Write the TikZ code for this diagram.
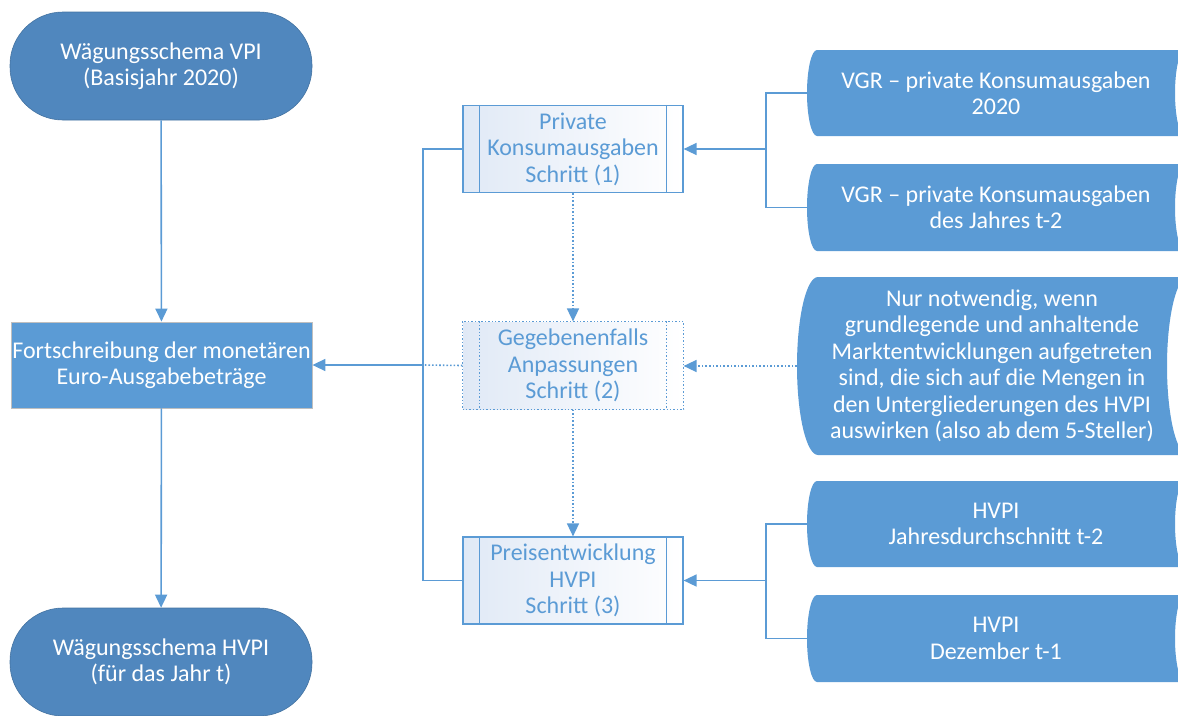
\documentclass[tikz,border=0pt]{standalone}
\usepackage{fontspec}
\setmainfont{Carlito}
\usetikzlibrary{arrows.meta}
\definecolor{termblue}{RGB}{80,135,190}
\definecolor{mainblue}{RGB}{91,155,213}
\definecolor{pbfill}{RGB}{224,233,246}
\newcommand{\sdshape}[5]{%
 \pgfmathsetmacro\sdM{(#2+#3)/2}%
 \pgfmathsetmacro\sdK{0.552*(#3-#2)/2}%
 \pgfmathsetmacro\sdA{#1-#5}%
 \pgfmathsetmacro\sdB{#1-0.552*#5}%
 \pgfmathsetmacro\sdC{#4-#5}%
 \pgfmathsetmacro\sdD{#4-0.552*#5}%
 \pgfmathsetmacro\sdE{\sdM-\sdK}%
 \pgfmathsetmacro\sdF{\sdM+\sdK}%
 \fill[mainblue] (#1,#2) .. controls (\sdB,#2) and (\sdA,\sdE) .. (\sdA,\sdM) .. controls (\sdA,\sdF) and (\sdB,#3) .. (#1,#3) -- (#4,#3) .. controls (\sdD,#3) and (\sdC,\sdF) .. (\sdC,\sdM) .. controls (\sdC,\sdE) and (\sdD,#2) .. (#4,#2) -- cycle;
}
\tikzset{
 txt/.style={font=\fontsize{24}{26.5}\selectfont, align=center, inner sep=0pt},
 term/.style={txt, text=white, fill=termblue, draw=termblue!85!black, line width=0.6pt, rounded corners=53pt, minimum width=302pt, minimum height=108pt},
 rectbox/.style={txt, text=white, fill=mainblue, draw=black!25, line width=0.8pt, minimum width=301pt, minimum height=86pt},
 procbox/.style={txt, text=mainblue, left color=pbfill, right color=white, draw=mainblue, line width=1.2pt, minimum width=220pt, minimum height=87pt},
 dotbox/.style={procbox, draw=none},
 sdtext/.style={txt, text=white},
 line/.style={draw=mainblue, line width=1.6pt},
 arr/.style={line, -{Triangle[length=13pt,width=12pt]}},
 dotline/.style={draw=mainblue, line width=1.6pt, dotted},
 dotarr/.style={dotline, -{Triangle[length=13pt,width=12pt]}},
}
\begin{document}
\begin{tikzpicture}[x=1pt,y=-1pt]
\useasboundingbox (0,0) rectangle (1178,715);
\clip (0,0) rectangle (1178,715);

% left column
\node[term] (vpi) at (161,66) {Wägungsschema VPI\\(Basisjahr 2020)};
\node[term] (hvpi) at (161,662) {Wägungsschema HVPI\\(für das Jahr t)};
\node[rectbox] (fort) at (161.5,365) {Fortschreibung der monetären\\Euro-Ausgabebeträge};

% process boxes
\node[procbox] (p1) at (573,149) {Private\\Konsumausgaben\\Schritt (1)};
\node[dotbox] (p2) at (573,365.5) {Gegebenenfalls\\Anpassungen\\Schritt (2)};
\node[procbox] (p3) at (573,580.5) {Preisentwicklung\\HVPI\\Schritt (3)};
\draw[mainblue, line width=1.2pt] ([xshift=17pt]p1.north west) -- ([xshift=17pt]p1.south west)
  ([xshift=-17pt]p1.north east) -- ([xshift=-17pt]p1.south east);
\draw[mainblue, line width=1.2pt] ([xshift=17pt]p3.north west) -- ([xshift=17pt]p3.south west)
  ([xshift=-17pt]p3.north east) -- ([xshift=-17pt]p3.south east);
\draw[mainblue, line width=1.4pt, dotted] (p2.north west) rectangle (p2.south east)
  ([xshift=17pt]p2.north west) -- ([xshift=17pt]p2.south west)
  ([xshift=-17pt]p2.north east) -- ([xshift=-17pt]p2.south east);

% stored data shapes
\sdshape{817}{50}{136}{1185}{10}
\sdshape{817}{164}{251}{1185}{10}
\sdshape{818}{277}{455}{1188}{21}
\sdshape{817}{481}{567}{1185}{10}
\sdshape{817}{595}{682}{1185}{10}
\node[sdtext] (s1) at (996,93) {VGR -- private Konsumausgaben\\2020};
\node[sdtext] (s2) at (996,207.5) {VGR -- private Konsumausgaben\\des Jahres t-2};
\node[sdtext] (s3) at (992,366) {Nur notwendig, wenn\\grundlegende und anhaltende\\Marktentwicklungen aufgetreten\\sind, die sich auf die Mengen in\\den Untergliederungen des HVPI\\auswirken (also ab dem 5-Steller)};
\node[sdtext] (s4) at (996,524) {HVPI\\Jahresdurchschnitt t-2};
\node[sdtext] (s5) at (996,638.5) {HVPI\\Dezember t-1};
\coordinate (s1w) at (807,93);
\coordinate (s2w) at (807,207.5);
\coordinate (s3w) at (797,366);
\coordinate (s4w) at (807,524);
\coordinate (s5w) at (807,638.5);

% buses
\coordinate (lbus) at (423,365);
\coordinate (rb1) at (766,149);
\coordinate (rb2) at (766,580.5);

% connectors
\draw[arr] (vpi) -- (fort);
\draw[arr] (fort) -- (hvpi);
\draw[line] (p1.west) -| (lbus) |- (p3.west);
\draw[arr] (lbus) -- (fort.east);
\draw[dotline] (p2.west) -- (lbus);
\draw[line] (s1w) -| (rb1) |- (s2w);
\draw[arr] (rb1) -- (p1.east);
\draw[line] (s4w) -| (rb2) |- (s5w);
\draw[arr] (rb2) -- (p3.east);
\draw[dotarr] (s3w) -- (p2.east |- s3w);
\draw[dotarr] (p1.south) -- (p2.north);
\draw[dotarr] (p2.south) -- (p3.north);
\end{tikzpicture}
\end{document}
